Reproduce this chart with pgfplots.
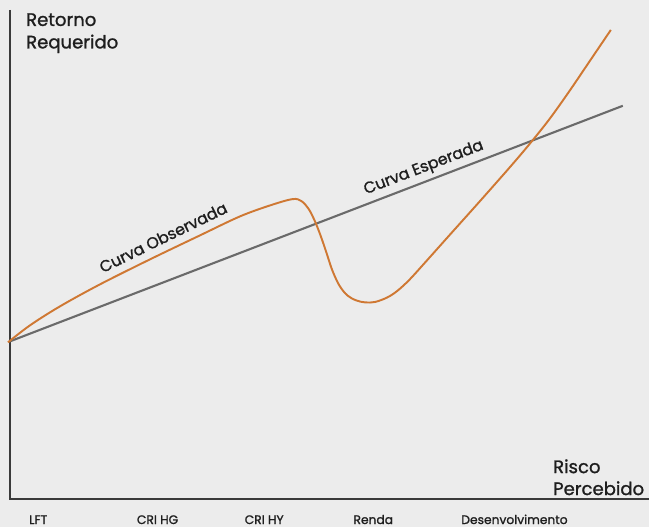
\documentclass[border=0pt]{standalone}
\usepackage{pgfplots}
\pgfplotsset{compat=1.18}
\usepackage{fontspec}
\setmainfont{Poppins}[RawFeature={embolden=1.2}]
\definecolor{bgc}{HTML}{ECECEC}
\definecolor{orc}{HTML}{CF7833}
\definecolor{grc}{HTML}{6A6A6A}
\definecolor{axc}{HTML}{3A3A3A}
\definecolor{txc}{HTML}{1E1E1E}
\begin{document}
\begin{tikzpicture}
\fill[bgc] (0,0) rectangle (13cm,10.56cm);
\begin{axis}[at={(0,0)}, anchor=south west, scale only axis,
  width=13cm, height=10.56cm, xmin=0, xmax=650, ymin=0, ymax=528,
  hide axis, clip=false]
\addplot[axc, line width=0.9pt] coordinates {(10,518) (10,28) (650,28)};
\addplot[grc, line width=1.2pt] coordinates {(10,186) (624,422)};
\addplot[orc, line width=1.1pt, smooth, tension=0.55] coordinates {
(8,185) (30,202) (60,221) (100,243) (150,268) (200,292) (240,311) (270,322)
(293,328.5) (302,326.5) (309,319) (315,307.5) (321,292.5) (327,275) (333,257)
(340,242) (348,232) (357,227) (366,225) (376,225.5) (388,230) (398,236.5)
(410,247.5) (425,264) (450,292) (480,325.5) (510,359.5) (530,383) (550,408)
(570,436) (590,465.5) (612,498)};
\node[txc, anchor=base west, font=\fontsize{10.3}{12}\selectfont] at (axis cs:20,502) {Retorno};
\node[txc, anchor=base west, font=\fontsize{10.3}{12}\selectfont] at (axis cs:20,479.5) {Requerido};
\node[txc, anchor=base west, font=\fontsize{10.3}{12}\selectfont] at (axis cs:548,54) {Risco};
\node[txc, anchor=base west, font=\fontsize{10.3}{12}\selectfont] at (axis cs:548,32) {Percebido};
\node[txc, anchor=base, rotate=26, font=\fontsize{9}{11}\selectfont] at (axis cs:166,285) {Curva Observada};
\node[txc, anchor=base, rotate=21, font=\fontsize{9}{11}\selectfont] at (axis cs:426,356) {Curva Esperada};
\node[txc, anchor=base west, font=\fontsize{7}{8}\selectfont] at (axis cs:23,3) {LFT};
\node[txc, anchor=base west, font=\fontsize{7}{8}\selectfont] at (axis cs:131,3) {CRI HG};
\node[txc, anchor=base west, font=\fontsize{7}{8}\selectfont] at (axis cs:239,3) {CRI HY};
\node[txc, anchor=base west, font=\fontsize{7}{8}\selectfont] at (axis cs:348,3) {Renda};
\node[txc, anchor=base west, font=\fontsize{7}{8}\selectfont] at (axis cs:456,3) {Desenvolvimento};
\end{axis}
\end{tikzpicture}
\end{document}
